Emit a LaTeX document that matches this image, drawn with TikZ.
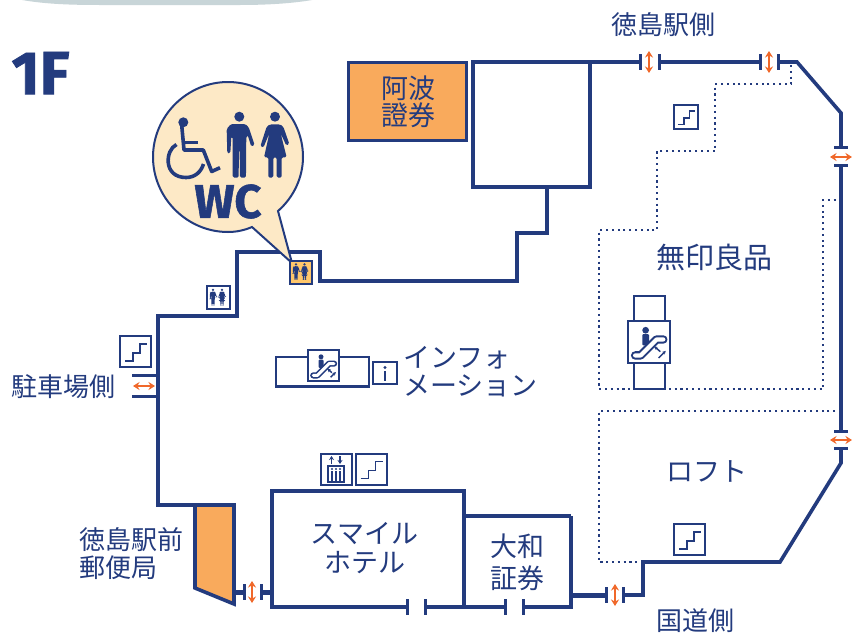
\documentclass[tikz,border=0pt]{standalone}
\usepackage{fontspec}
\usetikzlibrary{arrows.meta}
\setmainfont{Fira Sans}[BoldFeatures={FakeBold=1.2}]
\newfontfamily\cjk{Noto Sans CJK JP}
\definecolor{navy}{HTML}{233B7E}
\definecolor{doorarrow}{HTML}{F0682A}
\definecolor{shop}{HTML}{F9AA5C}
\definecolor{wcfill}{HTML}{FFC76B}
\definecolor{bubble}{HTML}{FDE9C6}
\definecolor{topgrey}{HTML}{C8D5D8}
\tikzset{
  wall/.style={draw=navy,line width=3.6pt,line join=miter},
  doorcap/.style={draw=navy,line width=3pt},
  dots/.style={draw=navy,line width=2.1pt,dash pattern=on 2.1pt off 3.7pt},
  flow/.style={draw=doorarrow,line width=2.2pt,{Stealth[length=6.5pt,width=8pt]}-{Stealth[length=6.5pt,width=8pt]}},
  iconbox/.style={draw=navy,line width=2pt,fill=white},
  txt/.style={text=navy,font=\cjk\fontsize{26}{26}\selectfont,inner sep=0pt},
  txtb/.style={text=navy,font=\cjk\fontsize{27}{27}\selectfont,inner sep=0pt},
}
% man / woman glyphs: (x,y)=head-top centre, #3=scale
\newcommand{\manglyph}[3]{\begin{scope}[shift={(#1,#2)},scale=#3]
 \fill[navy] (0,15) circle (15);
 \fill[navy,rounded corners=1.5pt] (-38,52) -- (-36,125) -- (-27,125) -- (-24,75) -- (-20,75) -- (-20,198) -- (-2,198) -- (-1,115) -- (1,115) -- (2,198) -- (20,198) -- (21,75) -- (25,70) -- (36,105) -- (46,100) -- (28,46) -- (18,37) -- (-25,37) -- cycle;
\end{scope}}
\newcommand{\womanglyph}[3]{\begin{scope}[shift={(#1,#2)},scale=#3]
 \fill[navy] (0,15) circle (15);
 \fill[navy,rounded corners=1.5pt] (-15,38) -- (15,38) -- (25,45) -- (43,97) -- (34,102) -- (17,65) -- (35,137) -- (20,137) -- (20,198) -- (5,198) -- (5,137) -- (-5,137) -- (-5,198) -- (-20,198) -- (-20,137) -- (-33,137) -- (-17,65) -- (-35,108) -- (-44,104) -- (-25,45) -- cycle;
\end{scope}}
% square stairs icon: left, top, size
\newcommand{\stairicon}[3]{\begin{scope}[shift={(#1,#2)},scale=#3/31]
 \draw[iconbox] (0,0) rectangle (31,31);
 \draw[draw=navy,line width=1.7pt] (5,25) -- (13,25) -- (13,17) -- (20,17) -- (20,8) -- (27,8);
\end{scope}}
% escalator icon: left, top, size
\newcommand{\escaicon}[3]{\begin{scope}[shift={(#1,#2)},scale=#3/100]
 \draw[iconbox] (0,0) rectangle (100,100);
 \fill[navy] (42,22) circle (8);
 \fill[navy,rounded corners=1pt] (34,31) rectangle (50,58);
 \draw[draw=navy,line width=#3*0.2pt,line cap=round,line join=round] (17,82) -- (30,82) -- (68,44) -- (84,44);
 \draw[draw=white,line width=#3*0.1pt,line cap=round,line join=round] (17,82) -- (30,82) -- (68,44) -- (84,44);
 \draw[draw=navy,line width=1.5pt,-{Stealth[length=3.5pt,width=3.5pt]}] (77,73) -- (62,60);
 \draw[draw=navy,line width=1.5pt,-{Stealth[length=3.5pt,width=3.5pt]}] (73,88) -- (90,71);
\end{scope}}
\begin{document}
\begin{tikzpicture}[x=1pt,y=-1pt]
\useasboundingbox (0,0) rectangle (852,635);
\fill[white] (0,0) rectangle (852,635);
% top grey band
\fill[topgrey] (22,0) .. controls (45,4) and (70,5) .. (100,5) -- (240,5) .. controls (270,5) and (295,3) .. (312,0) -- cycle;
% 1F
\node[text=navy,font=\fontsize{61}{61}\selectfont\bfseries,inner sep=0pt] (floor) at (40.5,73) {1F};
% dotted areas
\draw[dots] (791,65) -- (791,84) -- (715,84) -- (715,151) -- (657,151) -- (657,230) -- (599,230) -- (599,389) -- (823,389) -- (823,200) -- (841,200);
\draw[dots] (841,411) -- (599,411) -- (599,562) -- (643,562);
% shops
\draw[wall,line width=3pt,fill=shop] (348,62) rectangle (466,140);
\draw[wall,fill=shop] (195,505) -- (234,505) -- (234,604) -- (195,588) -- cycle;
% walls
\draw[wall] (195,505) -- (158,505) -- (158,316) -- (237,316) -- (237,252) -- (320,252) -- (320,281) -- (517,281) -- (517,233) -- (547,233) -- (547,187);
\draw[wall] (473,187) rectangle (590,62);
\draw[wall] (590,62) -- (640,62);
\draw[wall] (659,62) -- (760,62);
\draw[wall] (778,62) -- (797,62) -- (841,113) -- (841,147);
\draw[wall] (841,165) -- (841,431);
\draw[wall] (841,448) -- (841,463) -- (780,562) -- (643,562) -- (643,595) -- (623,595);
\draw[draw=navy,line width=5pt] (572,595) -- (606,595);
\draw[wall] (571,516) -- (464,516);
\draw[wall] (571,516) -- (571,607) -- (523,607);
\draw[wall] (505,607) -- (425,607);
\draw[wall] (407,607) -- (272,607) -- (272,491) -- (464,491) -- (464,607);
\draw[draw=navy,line width=5pt] (234,592) -- (244,592);
\draw[draw=navy,line width=5pt] (261,592) -- (272,592);
% door caps
\draw[doorcap] (640,54) -- (640,70); \draw[doorcap] (659,54) -- (659,70);
\draw[doorcap] (760,54) -- (760,70); \draw[doorcap] (778,54) -- (778,70);
\draw[doorcap] (834,147.5) -- (848,147.5); \draw[doorcap] (834,165) -- (848,165);
\draw[doorcap] (834,431) -- (848,431); \draw[doorcap] (834,448) -- (848,448);
\draw[doorcap] (606,587) -- (606,603); \draw[doorcap] (623,587) -- (623,603);
\draw[doorcap] (505,599) -- (505,615); \draw[doorcap] (523,599) -- (523,615);
\draw[doorcap] (407,599) -- (407,615); \draw[doorcap] (425,599) -- (425,615);
\draw[doorcap] (244,584) -- (244,600); \draw[doorcap] (261,584) -- (261,600);
\draw[doorcap] (132,375) -- (158,375); \draw[doorcap] (132,396) -- (158,396);
% door arrows
\draw[flow] (649,51) -- (649,73);
\draw[flow] (769,51) -- (769,73);
\draw[flow] (830,157) -- (852,157);
\draw[flow] (830,440) -- (852,440);
\draw[flow] (615,584) -- (615,606);
\draw[flow] (252,581) -- (252,603);
\draw[flow] (133,386) -- (155,386);
% escalator blocks
\draw[iconbox,line width=2.4pt] (276,357) rectangle (369,386.5);
\draw[iconbox,line width=2.4pt] (634,296) rectangle (665,389);
\escaicon{308}{350}{31}
\escaicon{628}{321}{42}
% info
\draw[iconbox] (373,362) rectangle (397,384);
\fill[navy] (385,367.5) circle (1.6);
\fill[navy] (384,371) rectangle (386.2,381);
% stairs
\stairicon{120}{336}{31}
\stairicon{674}{105}{24}
\stairicon{355.5}{453.5}{31}
\stairicon{674}{524}{31}
% elevator
\draw[iconbox] (320.5,453.5) rectangle (351.5,485);
\draw[draw=navy,line width=1.8pt,-{Stealth[length=4pt,width=5pt]}] (331.5,464) -- (331.5,456);
\draw[draw=navy,line width=1.8pt,-{Stealth[length=4pt,width=5pt]}] (340,456) -- (340,464);
\draw[draw=navy,line width=1.2pt] (328,466) rectangle (344,482);
\foreach \ex in {332,336,340}{
  \fill[navy] (\ex,469) circle (1.2);
  \fill[navy] (\ex-1.1,471) rectangle (\ex+1.1,481);
}
% WC icons
\draw[iconbox] (207,285.5) rectangle (230,309);
\manglyph{213}{288.5}{0.085}
\womanglyph{222}{288.5}{0.085}
% bubble
\path[draw=navy,line width=2pt,fill=bubble] (252,227) .. controls (245,230) and (237,232) .. (228,232) .. controls (187,232) and (153,198) .. (153,157) .. controls (153,116) and (187,82) .. (228,82) .. controls (269,82) and (303,116) .. (303,157) .. controls (303,177) and (294,197) .. (278,211) -- (292,263) -- cycle;
\fill[draw=navy,line width=2pt,fill=wcfill] (289.5,260.5) rectangle (312,284);
\manglyph{296}{263}{0.085}
\womanglyph{304.5}{263}{0.085}
\begin{scope}[line cap=butt]
\fill[navy] (183.3,122.3) circle (5);
\draw[draw=navy,line width=3.6pt,line join=round] (181.7,125) -- (184,150) -- (203.3,150) -- (211.7,171.5) -- (220,167.7);
\draw[draw=navy,line width=3.6pt] (185,142.3) -- (197.5,142.3);
\draw[draw=navy,line width=3.6pt] (176.5,144.5) .. controls (165,150) and (163,177.5) .. (186,177.5) .. controls (195,177.5) and (201,172) .. (203.5,164);
\end{scope}
\manglyph{239.3}{111.7}{0.333}
\womanglyph{275}{111.7}{0.333}
\node[text=navy,font=\fontsize{47}{47}\selectfont\bfseries,inner sep=0pt] (wc) at (228,201.5) {WC};
% labels
\node[txt] (l1) at (663.5,25) {徳島駅側};
\node[txtb] (l2) at (408.5,88) {阿波};
\node[txtb] (l3) at (408.5,115) {證券};
\node[txt,font=\cjk\fontsize{29}{29}\selectfont] (l4) at (714.5,257) {無印良品};
\node[txtb,anchor=west] (l5) at (403,358) {インフォ};
\node[txtb,anchor=west] (l6) at (403,386) {メーション};
\node[txt] (l7) at (63.5,387) {駐車場側};
\node[txt] (l8) at (131,540) {徳島駅前};
\node[txt,anchor=west] (l9) at (79,568) {郵便局};
\node[txtb] (l10) at (364.5,534) {スマイル};
\node[txtb] (l11) at (365,563) {ホテル};
\node[txtb] (l12) at (517,546) {大和};
\node[txtb] (l13) at (517,578) {証券};
\node[txtb] (l14) at (707,471) {ロフト};
\node[txt] (l15) at (695.5,621) {国道側};
\end{tikzpicture}
\end{document}
